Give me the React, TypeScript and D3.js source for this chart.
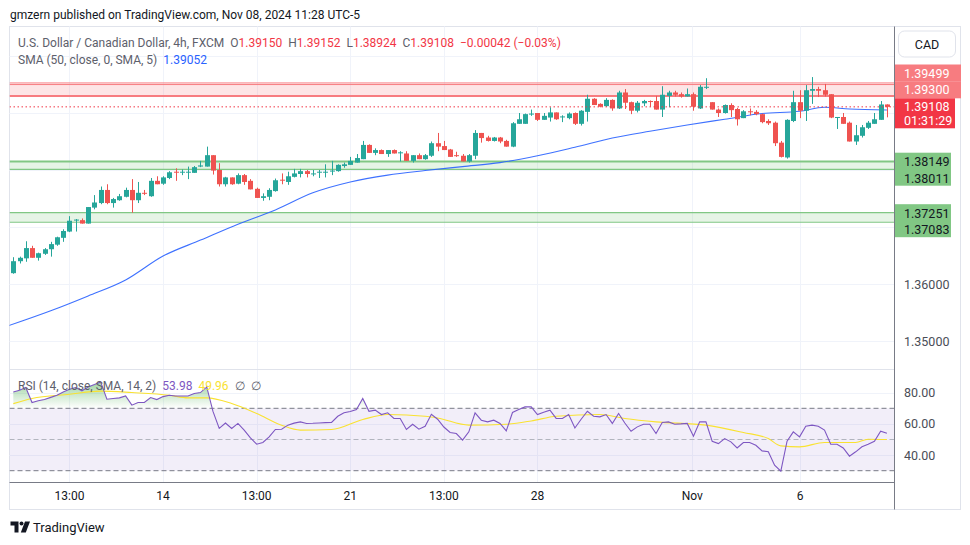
import React from "react";
import * as d3 from "d3";

// USDCAD 4h candles, FXCM
const opens = [
  1.3619, 1.364, 1.3645, 1.3663, 1.3646, 1.3653, 1.3661, 1.3669, 1.3681, 1.3692,
  1.3712, 1.3712, 1.3706, 1.3734, 1.3742, 1.3765, 1.3742, 1.3747, 1.3753, 1.3765,
  1.3747, 1.376, 1.3754, 1.3781, 1.3776, 1.3786, 1.3797, 1.3796, 1.3796, 1.3795,
  1.3806, 1.3806, 1.3826, 1.38, 1.3775, 1.3787, 1.3776, 1.3791, 1.3781, 1.3767,
  1.3751, 1.3753, 1.3763, 1.3783, 1.3779, 1.3788, 1.3793, 1.3798, 1.3793, 1.3796,
  1.3796, 1.3798, 1.3798, 1.3807, 1.3809, 1.3813, 1.3819, 1.3844, 1.383, 1.3835,
  1.3828, 1.3835, 1.383, 1.3829, 1.3816, 1.3826, 1.3819, 1.3825, 1.3847, 1.3842,
  1.3836, 1.3826, 1.3825, 1.3815, 1.3825, 1.3865, 1.3857, 1.3851, 1.3857, 1.3851,
  1.3841, 1.3881, 1.3881, 1.3898, 1.39, 1.3888, 1.3892, 1.3901, 1.3893, 1.3891,
  1.39, 1.3881, 1.3902, 1.3925, 1.3916, 1.3912, 1.3923, 1.3908, 1.3936, 1.3919,
  1.3904, 1.3917, 1.3921, 1.3921, 1.3906, 1.393, 1.3936, 1.3933, 1.3929, 1.3933,
  1.3908, 1.3945, 1.3919, 1.3906, 1.39, 1.3914, 1.3907, 1.3891, 1.3903, 1.3902,
  1.3898, 1.3886, 1.3883, 1.3848, 1.3822, 1.3886, 1.3919, 1.3904, 1.3939, 1.3942,
  1.394, 1.3933, 1.3892, 1.3893, 1.3883, 1.385, 1.386, 1.3874, 1.3881, 1.3888,
  1.3915,
];
const highs = [
  1.3647, 1.3648, 1.3675, 1.3667, 1.3655, 1.3663, 1.3674, 1.3683, 1.3696, 1.3719,
  1.3714, 1.3715, 1.3735, 1.3756, 1.3771, 1.3775, 1.3751, 1.3758, 1.3769, 1.3784,
  1.3779, 1.3765, 1.3786, 1.3789, 1.3789, 1.3798, 1.3803, 1.3801, 1.3806, 1.3807,
  1.3816, 1.3841, 1.3826, 1.3812, 1.3788, 1.3787, 1.3794, 1.3793, 1.3784, 1.3769,
  1.3759, 1.3768, 1.3785, 1.3794, 1.3797, 1.3802, 1.3802, 1.38, 1.38, 1.38,
  1.381, 1.3816, 1.381, 1.3813, 1.3823, 1.3828, 1.3851, 1.3845, 1.3838, 1.3836,
  1.3835, 1.3836, 1.3833, 1.3833, 1.3826, 1.3829, 1.3828, 1.385, 1.3865, 1.3851,
  1.3837, 1.3832, 1.3828, 1.3828, 1.387, 1.3865, 1.386, 1.3858, 1.3858, 1.3853,
  1.3884, 1.39, 1.3899, 1.3906, 1.39, 1.39, 1.391, 1.3901, 1.3896, 1.3901,
  1.3901, 1.3905, 1.3932, 1.3926, 1.3917, 1.3926, 1.3924, 1.3939, 1.3942, 1.392,
  1.3921, 1.3923, 1.3922, 1.393, 1.3947, 1.3939, 1.3939, 1.3936, 1.3943, 1.3936,
  1.3949, 1.3961, 1.3919, 1.3908, 1.3915, 1.3917, 1.3909, 1.3905, 1.3908, 1.3905,
  1.3899, 1.3889, 1.3885, 1.3851, 1.3889, 1.3939, 1.394, 1.3949, 1.3963, 1.3946,
  1.3951, 1.3933, 1.3893, 1.39, 1.3885, 1.3879, 1.3879, 1.3886, 1.39, 1.3921,
  1.39152,
];
const lows = [
  1.3618, 1.3636, 1.3639, 1.3646, 1.3641, 1.3651, 1.3648, 1.3667, 1.3674, 1.3691,
  1.3692, 1.3706, 1.3706, 1.3731, 1.374, 1.374, 1.3734, 1.3746, 1.3752, 1.3725,
  1.3742, 1.3756, 1.3753, 1.3775, 1.3774, 1.3784, 1.3781, 1.3791, 1.3784, 1.3795,
  1.3805, 1.3806, 1.3792, 1.3771, 1.3771, 1.3774, 1.3775, 1.3774, 1.3766, 1.3751,
  1.3746, 1.3747, 1.3762, 1.3775, 1.3774, 1.3787, 1.3787, 1.3787, 1.3789, 1.3786,
  1.3787, 1.3791, 1.3797, 1.3804, 1.3809, 1.3813, 1.3819, 1.383, 1.3826, 1.3828,
  1.3823, 1.3829, 1.3815, 1.3816, 1.3813, 1.3819, 1.3818, 1.3823, 1.3833, 1.3835,
  1.3823, 1.3823, 1.3815, 1.3813, 1.3819, 1.3848, 1.385, 1.385, 1.3847, 1.3841,
  1.384, 1.3881, 1.3881, 1.3895, 1.3886, 1.3888, 1.3885, 1.3888, 1.3884, 1.3889,
  1.3879, 1.3878, 1.3885, 1.3914, 1.391, 1.3911, 1.3904, 1.3907, 1.3907, 1.3898,
  1.3901, 1.3912, 1.3911, 1.3906, 1.3893, 1.391, 1.3929, 1.3927, 1.3929, 1.3904,
  1.3907, 1.3942, 1.3906, 1.3893, 1.3899, 1.3893, 1.3878, 1.3891, 1.3896, 1.3896,
  1.3882, 1.3879, 1.3842, 1.3822, 1.382, 1.3884, 1.3891, 1.3886, 1.3916, 1.3928,
  1.3929, 1.3891, 1.3872, 1.3881, 1.385, 1.3844, 1.3857, 1.3872, 1.3881, 1.3888,
  1.38924,
];
const closes = [
  1.364, 1.3646, 1.3663, 1.3646, 1.3654, 1.3661, 1.367, 1.3682, 1.3693, 1.3711,
  1.3713, 1.3706, 1.3735, 1.3743, 1.3765, 1.3742, 1.3749, 1.3754, 1.3765, 1.3747,
  1.376, 1.3759, 1.3781, 1.3775, 1.3787, 1.3796, 1.3796, 1.3797, 1.3797, 1.3805,
  1.3808, 1.3826, 1.3799, 1.3775, 1.3787, 1.3775, 1.3791, 1.3779, 1.3766, 1.3751,
  1.3754, 1.3765, 1.3782, 1.3782, 1.3789, 1.3794, 1.3798, 1.3793, 1.3794, 1.3797,
  1.3797, 1.3799, 1.3809, 1.381, 1.3816, 1.3821, 1.3844, 1.383, 1.3835, 1.3828,
  1.3835, 1.3829, 1.3831, 1.3816, 1.3826, 1.3819, 1.3826, 1.3847, 1.3841, 1.3835,
  1.3823, 1.3825, 1.3815, 1.3826, 1.3865, 1.3856, 1.3851, 1.3857, 1.385, 1.3841,
  1.3882, 1.3889, 1.3898, 1.3899, 1.3888, 1.3895, 1.3901, 1.3889, 1.3894, 1.3899,
  1.3881, 1.3904, 1.3925, 1.3914, 1.3911, 1.3923, 1.3908, 1.3936, 1.3918, 1.3904,
  1.3918, 1.3921, 1.392, 1.3906, 1.3932, 1.3936, 1.3932, 1.3929, 1.3933, 1.3911,
  1.3946, 1.3946, 1.3906, 1.39, 1.3914, 1.3905, 1.3889, 1.3903, 1.3902, 1.3898,
  1.3884, 1.3882, 1.3847, 1.3823, 1.3888, 1.3919, 1.3904, 1.394, 1.3942, 1.3939,
  1.3932, 1.3892, 1.3893, 1.3881, 1.385, 1.3861, 1.3875, 1.3883, 1.3889, 1.3915,
  1.39108,
];

// SMA(50) smoothed, sampled along the blue line
const smaIdx = [-1, 6, 12, 18, 24, 30, 36, 42, 48, 54, 60, 66, 72, 78, 84, 90, 96, 102, 108, 114, 120, 126, 130, 134, 140];
const smaVal = [
  1.3526, 1.3553, 1.3579, 1.3607, 1.3649, 1.3677, 1.3705, 1.373, 1.376, 1.3779,
  1.3791, 1.3799, 1.3806, 1.3813, 1.3825, 1.384, 1.3856, 1.3868, 1.3879, 1.3889,
  1.3899, 1.3903, 1.391, 1.3907, 1.39052,
];

// RSI(14), one value per bar
const rsi = [
  80.5, 81.6, 83.3, 73.7, 74.8, 75.6, 77.0, 78.4, 80.5, 82.2,
  83.3, 81.2, 83.7, 85.2, 86.9, 75.8, 76.3, 76.7, 77.9, 72.0,
  73.7, 73.7, 76.9, 75.6, 77.5, 78.4, 77.9, 77.9, 77.9, 79.5,
  80.1, 83.7, 68.0, 57.1, 60.6, 57.1, 60.3, 56.0, 51.0, 47.0,
  48.1, 51.7, 56.4, 56.6, 59.2, 60.5, 61.3, 60.3, 60.4, 60.6,
  60.8, 60.9, 64.9, 67.1, 68.0, 69.2, 76.3, 68.1, 68.8, 66.0,
  67.1, 63.5, 63.5, 56.4, 59.8, 56.6, 58.5, 66.2, 63.0, 58.0,
  54.5, 53.8, 49.6, 54.9, 67.1, 62.4, 61.3, 62.4, 60.3, 55.5,
  67.3, 69.2, 70.9, 70.9, 66.0, 67.5, 68.8, 63.5, 63.5, 66.0,
  57.4, 63.0, 68.1, 64.9, 64.5, 66.0, 60.3, 66.7, 60.6, 55.3,
  58.1, 59.8, 59.8, 53.8, 60.9, 61.3, 59.8, 60.0, 60.3, 52.1,
  61.3, 61.3, 48.9, 47.4, 50.6, 48.5, 44.6, 48.1, 48.1, 46.3,
  42.7, 42.1, 33.5, 29.7, 48.9, 54.9, 51.7, 58.5, 59.2, 58.5,
  56.0, 47.0, 47.0, 44.6, 39.3, 42.1, 45.3, 47.0, 48.9, 55.3,
  53.98,
];
// RSI-based SMA(14), sampled along the yellow line
const rsiMaIdx = [0, 3, 9, 14, 19, 25, 28, 31, 35, 39, 43, 46, 51, 56, 60, 66, 68, 73, 79, 83, 87, 94, 98, 103, 111, 117, 121, 123, 126, 130, 135, 137, 140];
const rsiMaVal = [
  73.0, 76.3, 79.0, 81.0, 80.1, 78.4, 76.7, 76.7, 73.1, 66.7, 59.2, 56.0, 56.4,
  62.8, 66.0, 64.9, 63.8, 59.2, 59.8, 61.9, 64.9, 66.0, 63.5, 61.3, 59.2, 54.5,
  50.6, 45.9, 45.3, 48.1, 48.1, 50.2, 49.96,
];

const priceGrid = [1.35, 1.36, 1.37, 1.38, 1.39, 1.4];
const priceAxisTicks = [1.36, 1.35];
const rsiGrid = [80, 60, 40];
const timeTickIdx = [9, 24, 39, 54, 69, 84, 108.8, 126.1];
const timeTickLabels = ["13:00", "14", "13:00", "21", "13:00", "28", "Nov", "6"];

const resistanceZone = [1.39499, 1.393];
const supportZoneA = [1.38149, 1.38011];
const supportZoneB = [1.37251, 1.37083];

const FONT = "Roboto, 'Noto Sans', sans-serif";
const UP = "#26a69a";
const DOWN = "#ef5350";

export default function App() {
  const paneL = 9.5;
  const paneR = 894.5;
  const axisR = 960.5;
  const top = 26.5;
  const sep = 369.5;
  const timeY = 482.5;
  const bottom = 509.5;

  const x = d3.scaleLinear().domain([0, 140]).range([13.3, 886.9]);
  const yP = d3.scaleLinear().domain([1.35, 1.4]).range([341, 56]);
  const yR = d3.scaleLinear().domain([30, 70]).range([470.7, 408.3]);

  const n = closes.length;
  const last = n - 1;
  const fmt = d3.format(".5f");
  const chg = closes[last] - closes[last - 1];
  const chgPct = (chg / closes[last - 1]) * 100;
  const minus = (s: string) => s.replace("-", "\u2212");

  const smaLine = d3
    .line<number>()
    .x((d, i) => x(smaIdx[i]))
    .y((d) => yP(d))
    .curve(d3.curveMonotoneX)(smaVal);

  const rsiLine = d3
    .line<number>()
    .x((d, i) => x(i))
    .y((d) => yR(d))(rsi);

  const maLine = d3
    .line<number>()
    .x((d, i) => x(rsiMaIdx[i]))
    .y((d) => yR(d))
    .curve(d3.curveMonotoneX)(rsiMaVal);

  const obArea = d3
    .area<number>()
    .x((d, i) => x(i))
    .y0(yR(70))
    .y1((d) => yR(d))(rsi);
  const osArea = d3
    .area<number>()
    .x((d, i) => x(i))
    .y0(yR(30))
    .y1((d) => yR(d))(rsi);

  const zone = (lv: number[], col: string, fill: string, wTop: number, wBot: number, key: string) => (
    <g key={key}>
      <rect x={paneL} y={yP(lv[0])} width={paneR - paneL} height={yP(lv[1]) - yP(lv[0])} fill={fill} />
      <line x1={paneL} x2={paneR} y1={yP(lv[0])} y2={yP(lv[0])} stroke={col} strokeWidth={wTop} />
      <line x1={paneL} x2={paneR} y1={yP(lv[1])} y2={yP(lv[1])} stroke={col} strokeWidth={wBot} />
    </g>
  );

  const axisTag = (yc: number, h: number, w: number, bg: string) => (
    <rect x={895} y={yc - h / 2} width={w} height={h} fill={bg} />
  );

  return (
    <svg
      width={970}
      height={545}
      style={{ position: "absolute", left: 0, top: 0, background: "#fff" }}
      fontFamily={FONT}
    >
      <defs>
        <clipPath id="mainClip">
          <rect x={paneL} y={top} width={paneR - paneL} height={sep - top} />
        </clipPath>
        <clipPath id="rsiClip">
          <rect x={paneL} y={sep} width={paneR - paneL} height={timeY - sep} />
        </clipPath>
        <clipPath id="obClip">
          <rect x={paneL} y={sep} width={paneR - paneL} height={yR(70) - sep} />
        </clipPath>
        <clipPath id="osClip">
          <rect x={paneL} y={yR(30)} width={paneR - paneL} height={timeY - yR(30)} />
        </clipPath>
        <linearGradient id="obGrad" gradientUnits="userSpaceOnUse" x1={0} x2={0} y1={yR(100)} y2={yR(70)}>
          <stop offset="0" stopColor="#4caf50" stopOpacity={0.95} />
          <stop offset="1" stopColor="#4caf50" stopOpacity={0} />
        </linearGradient>
        <linearGradient id="osGrad" gradientUnits="userSpaceOnUse" x1={0} x2={0} y1={yR(30)} y2={yR(0)}>
          <stop offset="0" stopColor="#f23645" stopOpacity={0} />
          <stop offset="1" stopColor="#f23645" stopOpacity={0.9} />
        </linearGradient>
      </defs>

      {/* header */}
      <text x={10} y={19} fontSize={12} fill="#131722">
        gmzern published on TradingView.com, Nov 08, 2024 11:28 UTC-5
      </text>

      {/* frame */}
      <rect x={paneL} y={top} width={axisR - paneL} height={bottom - top} fill="none" stroke="#e0e3eb" />

      {/* grid */}
      {timeTickIdx.map((t, i) => (
        <line key={"vg" + i} x1={Math.round(x(t)) + 0.5} x2={Math.round(x(t)) + 0.5} y1={top} y2={timeY} stroke="#f0f3fa" />
      ))}
      {priceGrid.map((p, i) => (
        <line key={"hg" + i} x1={paneL} x2={paneR} y1={Math.round(yP(p)) + 0.5} y2={Math.round(yP(p)) + 0.5} stroke="#f0f3fa" />
      ))}
      {rsiGrid.map((v, i) => (
        <line key={"rg" + i} x1={paneL} x2={paneR} y1={Math.round(yR(v)) + 0.5} y2={Math.round(yR(v)) + 0.5} stroke="#f0f3fa" />
      ))}
      <line x1={paneL} x2={paneR} y1={sep} y2={sep} stroke="#e0e3eb" />

      {/* zones */}
      <g clipPath="url(#mainClip)">
        {zone(resistanceZone, "#f77c80", "rgba(247,124,128,0.2)", 1, 2, "res")}
        <line x1={paneL} x2={paneR} y1={yP(resistanceZone[0]) - 1.6} y2={yP(resistanceZone[0]) - 1.6} stroke="#f77c80" strokeWidth={1} />
        {zone(supportZoneA, "#81c784", "rgba(129,199,132,0.2)", 2, 1.2, "supA")}
        {zone(supportZoneB, "#81c784", "rgba(129,199,132,0.2)", 1.2, 1.2, "supB")}

        <path d={smaLine || ""} fill="none" stroke="#2962ff" strokeWidth={1.1} strokeOpacity={0.9} />

        {opens.map((o, i) => {
          const c = closes[i];
          const col = c >= o ? UP : DOWN;
          const left = Math.round(x(i)) - 2;
          const yt = yP(Math.max(o, c));
          const yb = yP(Math.min(o, c));
          return (
            <g key={"c" + i}>
              <line x1={left + 2.5} x2={left + 2.5} y1={yP(highs[i])} y2={yP(lows[i])} stroke={col} strokeWidth={1} />
              <rect x={left} y={yt} width={5} height={Math.max(1, yb - yt)} fill={col} />
            </g>
          );
        })}

        <line
          x1={paneL}
          x2={paneR}
          y1={yP(closes[last])}
          y2={yP(closes[last])}
          stroke="#f23645"
          strokeWidth={1}
          strokeDasharray="1.5 2.5"
        />
      </g>

      {/* main legend */}
      <text x={18} y={46.5} fontSize={12} fill="#5d606b">
        <tspan>U.S. Dollar / Canadian Dollar, 4h, FXCM</tspan>
        <tspan dx={6}>O</tspan>
        <tspan fill="#f23645">{fmt(opens[last])}</tspan>
        <tspan dx={6}>H</tspan>
        <tspan fill="#f23645">{fmt(highs[last])}</tspan>
        <tspan dx={6}>L</tspan>
        <tspan fill="#f23645">{fmt(lows[last])}</tspan>
        <tspan dx={6}>C</tspan>
        <tspan fill="#f23645">{fmt(closes[last])}</tspan>
        <tspan dx={6} fill="#f23645">
          {minus(fmt(chg))} ({minus(d3.format(".2f")(chgPct))}%)
        </tspan>
      </text>
      <text x={18} y={63.5} fontSize={12} fill="#5d606b">
        <tspan>SMA (50, close, 0, SMA, 5)</tspan>
        <tspan dx={6} fill="#2962ff">{fmt(smaVal[smaVal.length - 1])}</tspan>
      </text>

      {/* RSI pane */}
      <g clipPath="url(#rsiClip)">
        <rect x={paneL} y={yR(70)} width={paneR - paneL} height={yR(30) - yR(70)} fill="rgba(126,87,194,0.1)" />
        <path d={obArea || ""} fill="url(#obGrad)" clipPath="url(#obClip)" />
        <path d={osArea || ""} fill="url(#osGrad)" clipPath="url(#osClip)" />
        <line x1={paneL} x2={paneR} y1={yR(70)} y2={yR(70)} stroke="#787b86" strokeDasharray="5 3" />
        <line x1={paneL} x2={paneR} y1={yR(50)} y2={yR(50)} stroke="#b2b5be" strokeDasharray="5 3" />
        <line x1={paneL} x2={paneR} y1={yR(30)} y2={yR(30)} stroke="#787b86" strokeDasharray="5 3" />
        <path d={maLine || ""} fill="none" stroke="#f9e231" strokeWidth={1.1} />
        <path d={rsiLine || ""} fill="none" stroke="#7e57c2" strokeWidth={1.1} />
      </g>
      <text x={18} y={389.5} fontSize={12} fill="#5d606b">
        <tspan>RSI (14, close, SMA, 14, 2)</tspan>
        <tspan dx={6} fill="#7e57c2">{d3.format(".2f")(rsi[last])}</tspan>
        <tspan dx={6} fill="#f9e231">{d3.format(".2f")(rsiMaVal[rsiMaVal.length - 1])}</tspan>
        <tspan dx={6}>∅</tspan>
        <tspan dx={6}>∅</tspan>
      </text>

      {/* axes lines */}
      <line x1={paneL} x2={paneR} y1={timeY} y2={timeY} stroke="#787b86" />
      <line x1={paneR} x2={paneR} y1={top} y2={bottom} stroke="#787b86" />

      {/* time axis */}
      {timeTickIdx.map((t, i) => (
        <text key={"tl" + i} x={x(t)} y={500} fontSize={12} fill="#131722" textAnchor="middle">
          {timeTickLabels[i]}
        </text>
      ))}

      {/* price axis */}
      <rect x={898.5} y={31} width={57} height={26} rx={6} fill="#fff" stroke="#e0e3eb" />
      <text x={927} y={48.5} fontSize={12.5} fill="#131722" textAnchor="middle">
        CAD
      </text>
      {priceAxisTicks.map((p, i) => (
        <text key={"pa" + i} x={904} y={yP(p) + 4.5} fontSize={12.5} fill="#4a4d57">
          {fmt(p)}
        </text>
      ))}
      {rsiGrid.map((v, i) => (
        <text key={"ra" + i} x={904} y={yR(v) + 4.5} fontSize={12.5} fill="#4a4d57">
          {d3.format(".2f")(v)}
        </text>
      ))}

      {axisTag(73, 17, 66, "#f77c80")}
      {axisTag(89.8, 17, 66, "#f77c80")}
      <text x={904} y={77.5} fontSize={12.5} fill="#fff">{fmt(resistanceZone[0])}</text>
      <text x={904} y={94.3} fontSize={12.5} fill="#fff">{fmt(resistanceZone[1])}</text>

      {axisTag(113.3, 30, 60, "#f23645")}
      <text x={904} y={111.2} fontSize={12.5} fill="#fff">{fmt(closes[last])}</text>
      <text x={904} y={125.2} fontSize={12.5} fill="#fff">01:31:29</text>

      {axisTag(169.2, 33, 56, "#81c784")}
      <text x={904} y={166} fontSize={12.5} fill="#131722">{fmt(supportZoneA[0])}</text>
      <text x={904} y={182.6} fontSize={12.5} fill="#131722">{fmt(supportZoneA[1])}</text>

      {axisTag(220.7, 33, 56, "#81c784")}
      <text x={904} y={217.6} fontSize={12.5} fill="#131722">{fmt(supportZoneB[0])}</text>
      <text x={904} y={234.3} fontSize={12.5} fill="#131722">{fmt(supportZoneB[1])}</text>

      {/* TradingView logo */}
      <g fill="#131722">
        <path d="M10.5 521.5 h8 v11 h-4 v-7 h-4 z" />
        <circle cx={21.5} cy={523.5} r={2} />
        <path d="M25 521.5 h5 l-4.2 11 h-5 z" />
      </g>
      <text x={33} y={531.5} fontSize={13} fill="#131722">
        TradingView
      </text>
    </svg>
  );
}
